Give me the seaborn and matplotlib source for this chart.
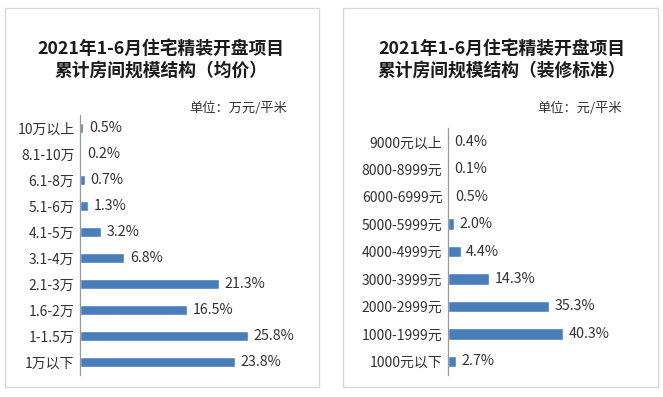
import matplotlib
matplotlib.use("Agg")
import matplotlib.pyplot as plt
import seaborn as sns
import pandas as pd
from matplotlib.patches import Rectangle

sns.set_theme(style="white")
plt.rcParams['font.family'] = ['Noto Sans CJK SC', 'DejaVu Sans']

# ---- data ----
left_title = "2021年1-6月住宅精装开盘项目\n累计房间规模结构（均价）"
left_unit = "单位：万元/平米"
left_cats = ["10万以上", "8.1-10万", "6.1-8万", "5.1-6万", "4.1-5万",
             "3.1-4万", "2.1-3万", "1.6-2万", "1-1.5万", "1万以下"]
left_vals = [0.5, 0.2, 0.7, 1.3, 3.2, 6.8, 21.3, 16.5, 25.8, 23.8]

right_title = "2021年1-6月住宅精装开盘项目\n累计房间规模结构（装修标准）"
right_unit = "单位：元/平米"
right_cats = ["9000元以上", "8000-8999元", "6000-6999元", "5000-5999元",
              "4000-4999元", "3000-3999元", "2000-2999元", "1000-1999元",
              "1000元以下"]
right_vals = [0.4, 0.1, 0.5, 2.0, 4.4, 14.3, 35.3, 40.3, 2.7]

W, H = 663, 397
BAR = "#4a7ebb"
TXT = "#333333"

fig = plt.figure(figsize=(W / 100, H / 100), dpi=100)
fig.patch.set_facecolor("white")

def px(x, y, w, h):
    return [x / W, (H - y - h) / H, w / W, h / H]

# panel borders
for (x0, x1) in [(5, 319), (343, 658)]:
    fig.add_artist(Rectangle((x0 / W, (H - 387) / H), (x1 - x0) / W, (387 - 8) / H,
                             transform=fig.transFigure, fill=False,
                             edgecolor="#d9d9d9", linewidth=1.0))

def panel(rect, cats, vals, xmax, title, unit, tx, ux, uy):
    ax = fig.add_axes(px(*rect))
    ax.set_facecolor("none")
    df = pd.DataFrame({"cat": cats, "val": vals})
    sns.barplot(data=df, y="cat", x="val", color=BAR, width=0.42,
                saturation=1, ax=ax, orient="h")
    ax.set_xlim(0, xmax)
    ax.set_ylim(len(cats) - 0.5, -0.5)
    for s in ["top", "right", "bottom"]:
        ax.spines[s].set_visible(False)
    ax.spines["left"].set_color("#9a9a9a")
    ax.spines["left"].set_linewidth(0.9)
    ax.set_xticks([])
    ax.set_xlabel("")
    ax.set_ylabel("")
    ax.tick_params(axis="y", which="major", length=0, pad=4,
                   labelsize=10, labelcolor=TXT)
    ax.set_yticks([i + 0.5 for i in range(-1, len(cats))], minor=True)
    ax.tick_params(axis="y", which="minor", length=5, width=0.9,
                   color="#9a9a9a", direction="out")
    for c in ax.containers:
        ax.bar_label(c, labels=[f"{v:.1f}%" for v in vals], padding=4,
                     fontsize=10.3, color=TXT)
    fig.text(tx / W, 1 - 60 / H, title, fontsize=12.8, fontweight="bold",
             color="#1a1a1a", ha="center", va="center", linespacing=1.3)
    fig.text(ux / W, 1 - uy / H, unit, fontsize=9.5, color=TXT,
             ha="right", va="center")
    return ax

panel((80, 115, 220, 260), left_cats, left_vals, 220 / 6.51,
      left_title, left_unit, 161, 287, 108)
panel((448, 128, 180, 247), right_cats, right_vals, 180 / 2.85,
      right_title, right_unit, 502, 622, 108)

fig.savefig("out.png", dpi=100, facecolor="white")
